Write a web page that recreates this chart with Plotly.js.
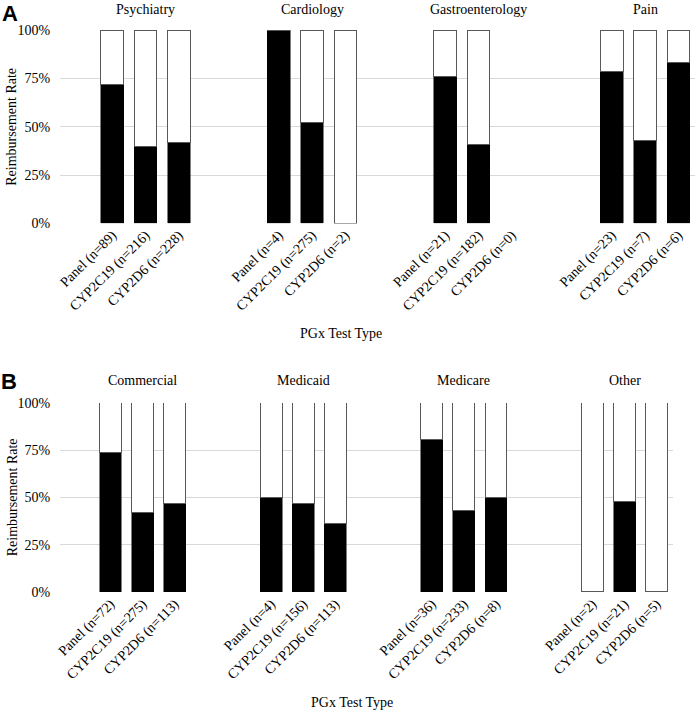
<!DOCTYPE html>
<html>
<head>
<meta charset="utf-8">
<script src="https://cdn.plot.ly/plotly-3.0.1.min.js"></script>
<style>html,body{margin:0;padding:0;background:#fff;}#chart{width:699px;height:711px;}</style>
</head>
<body>
<div id="chart"></div>
<script>
// ---- data ----
const testTypes = ['Panel', 'CYP2C19', 'CYP2D6'];

const groupsA = ['Psychiatry', 'Cardiology', 'Gastroenterology', 'Pain'];
const nA = [[89, 216, 228], [4, 275, 2], [21, 182, 0], [23, 7, 6]];
const rateA = [[71.9, 39.8, 41.7], [100, 52.0, 0], [76.2, 40.7, null], [78.3, 42.9, 83.3]];

const groupsB = ['Commercial', 'Medicaid', 'Medicare', 'Other'];
const nB = [[72, 275, 113], [4, 156, 113], [36, 233, 8], [2, 21, 5]];
const rateB = [[73.6, 42.2, 46.9], [50.0, 46.8, 36.3], [80.6, 43.3, 50.0], [0, 47.6, 0]];

const yTicks = [0, 25, 50, 75, 100];
const yTickLabels = ['0%', '25%', '50%', '75%', '100%'];

// ---- build ----
const SLOTS_PER_GROUP = 5;
function build(groups, ns, rates, xa, ya) {
  const x = [], black = [], white = [], tickText = [], groupX = [];
  groups.forEach((g, gi) => {
    groupX.push(gi * SLOTS_PER_GROUP + 1);
    testTypes.forEach((t, ti) => {
      x.push(gi * SLOTS_PER_GROUP + ti);
      const r = rates[gi][ti];
      black.push(r);
      white.push(r === null ? null : 100 - r);
      tickText.push(t + ' (n=' + ns[gi][ti] + ')');
    });
  });
  const traces = [
    {type: 'bar', x: x, y: black, xaxis: xa, yaxis: ya, width: 0.68,
     marker: {color: '#000000', line: {color: '#000000', width: 0.5}}, hoverinfo: 'y'},
    {type: 'bar', x: x, y: white, xaxis: xa, yaxis: ya, width: 0.68,
     marker: {color: '#ffffff', line: {color: '#595959', width: 1}}, hoverinfo: 'y'}
  ];
  return {traces, x, tickText, groupX};
}
const A = build(groupsA, nA, rateA, 'x', 'y');
const B = build(groupsB, nB, rateB, 'x2', 'y2');

const serif = 'Liberation Serif, Times New Roman, serif';
const txtFont = {family: serif, size: 14, color: '#000'};

function xaxisDef(d, domain, anchor) {
  return {domain: domain, anchor: anchor, tickmode: 'array', tickvals: d.x, ticktext: d.tickText,
    tickangle: -45, tickfont: txtFont, range: [-1.57, 17.5], showgrid: false, zeroline: false,
    showline: false, ticks: '', fixedrange: true};
}
function yaxisDef(domain, anchor) {
  return {domain: domain, anchor: anchor, range: [0, 100], tickmode: 'array', tickvals: yTicks,
    ticktext: yTickLabels, tickfont: txtFont, gridcolor: '#d9d9d9', gridwidth: 1, zeroline: false,
    showline: false, ticks: 'outside', tickcolor: 'rgba(0,0,0,0)', ticklen: 6};
}

function ann(text, xref, x, y, extra) {
  return Object.assign({text: text, xref: xref, yref: 'paper', x: x, y: y, showarrow: false,
    xanchor: 'center', yanchor: 'middle', font: txtFont}, extra || {});
}
const annotations = [];
groupsA.forEach((g, i) => annotations.push(ann(g, 'x', A.groupX[i], 1.0365)));
groupsB.forEach((g, i) => annotations.push(ann(g, 'x2', B.groupX[i], 0.3769)));
annotations.push(ann('PGx Test Type', 'paper', 0.4425, 0.4606));
annotations.push(ann('PGx Test Type', 'paper', 0.46, -0.1964));
annotations.push(ann('Reimbursement Rate', 'paper', -0.0756, 0.8278, {textangle: -90}));
annotations.push(ann('Reimbursement Rate', 'paper', -0.0756, 0.1686, {textangle: -90}));
const labelFont = {family: 'Liberation Sans, Arial, sans-serif', size: 22, color: '#000'};
annotations.push(ann('<b>A</b>', 'paper', -0.0787, 1.0294, {font: labelFont}));
annotations.push(ann('<b>B</b>', 'paper', -0.0803, 0.3746, {font: labelFont}));

const layout = {
  width: 699, height: 711,
  margin: {l: 60, r: 4, t: 30, b: 119.3},
  paper_bgcolor: '#fff', plot_bgcolor: '#fff',
  barmode: 'stack', showlegend: false,
  xaxis: xaxisDef(A, [0, 1], 'y'),
  yaxis: yaxisDef([0.656, 1], 'x'),
  xaxis2: xaxisDef(B, [0, 0.965], 'y2'),
  yaxis2: yaxisDef([0, 0.3365], 'x2'),
  annotations: annotations
};

Plotly.newPlot('chart', A.traces.concat(B.traces), layout, {displayModeBar: false, staticPlot: true});
</script>
</body>
</html>
